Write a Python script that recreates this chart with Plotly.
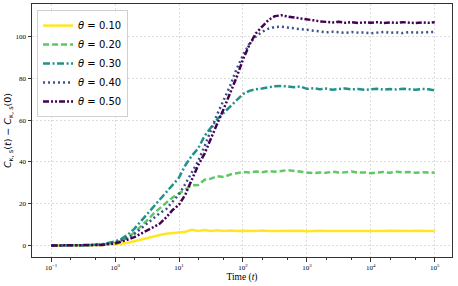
import plotly.graph_objects as go

# log10 of time
log_t = [-1.0, -0.8, -0.6, -0.4, -0.2,
         0.0, 0.1, 0.2, 0.3, 0.4, 0.5, 0.6, 0.7, 0.8, 0.9,
         1.0, 1.1, 1.2, 1.3, 1.4, 1.5, 1.6, 1.7, 1.8, 1.9,
         2.0, 2.1, 2.2, 2.3, 2.4, 2.5, 2.6, 2.7, 2.8, 2.9,
         3.0, 3.1, 3.2, 3.3, 3.4, 3.5, 3.6, 3.7, 3.8, 3.9,
         4.0, 4.1, 4.2, 4.3, 4.4, 4.5, 4.6, 4.7, 4.8, 4.9, 5.0]
time = [10 ** e for e in log_t]

theta_010 = [0, 0.0, 0.05, 0.1, 0.2,
             0.5, 0.8, 1.3, 2.0, 2.8, 3.6, 4.4, 5.0, 5.6, 6.0,
             6.1, 6.6, 7.5, 6.9, 7.4, 7.0, 7.3, 7.0, 7.2, 6.9,
             7.1, 6.9, 7.0, 7.2, 6.9, 7.0, 7.1, 6.9, 7.0, 7.1,
             6.8, 7.0, 7.1, 6.9, 7.0, 7.1, 6.9, 7.0, 7.0, 6.9,
             7.1, 7.0, 6.9, 7.1, 7.0, 6.9, 7.0, 7.1, 6.9, 7.0, 6.9]
theta_020 = [0, 0.0, 0.05, 0.15, 0.4,
             1.3, 2.3, 3.8, 6.2, 9.0, 12.0, 15.2, 18.0, 20.5, 23.0,
             25.0, 26.6, 28.8, 29.0, 31.5, 32.0, 33.2, 32.8, 34.0, 34.6,
             35.2, 35.0, 35.4, 35.1, 35.6, 35.3, 35.8, 36.1, 35.7, 35.3,
             35.0, 34.6, 35.0, 34.8, 35.3, 34.9, 35.1, 35.4, 34.9, 35.0,
             34.6, 34.9, 35.2, 34.8, 35.3, 35.0, 35.2, 34.8, 35.1, 35.0, 34.8]
theta_030 = [0, 0.0, 0.05, 0.2, 0.6,
             2.0, 3.2, 5.2, 8.0, 11.5, 15.0, 18.5, 22.0, 25.5, 29.0,
             32.5, 38.5, 43.0, 46.5, 52.5, 56.5, 60.5, 63.5, 66.5, 70.0,
             72.5, 74.0, 74.8, 75.2, 75.8, 76.2, 76.4, 76.0, 75.8, 76.1,
             75.0, 75.3, 74.8, 75.1, 74.6, 74.9, 75.2, 74.7, 74.9, 74.5,
             74.8, 75.0, 74.6, 74.9, 74.7, 75.0, 74.8, 74.6, 74.9, 74.8, 74.3]
theta_040 = [0, 0.0, 0.05, 0.15, 0.5,
             1.5, 2.5, 3.8, 5.5, 8.0, 10.5, 13.0, 15.5, 17.5, 21.0,
             24.5, 29.5, 35.0, 40.5, 47.5, 55.5, 63.0, 69.7, 76.5, 84.5,
             91.0, 96.5, 100.0, 102.3, 103.8, 104.6, 104.7, 104.3, 104.0, 103.6,
             103.2, 102.8, 102.5, 102.0, 102.3, 102.1, 101.8, 102.2, 101.9, 102.0,
             101.6, 101.9, 102.2, 101.8, 102.0, 101.7, 102.1, 101.9, 102.0, 101.8, 102.2]
theta_050 = [0, 0.0, 0.05, 0.1, 0.3,
             1.0, 1.8, 2.8, 4.0, 5.5, 7.0, 8.8, 10.5, 13.5, 17.0,
             19.5, 24.5, 31.5, 38.5, 44.0, 51.5, 58.5, 65.5, 72.9, 80.5,
             89.0, 96.0, 101.5, 105.0, 108.0, 109.8, 110.2, 109.6, 109.2, 108.7,
             108.5, 107.8, 107.3, 107.0, 106.8, 107.1, 106.6, 106.9, 106.5, 106.8,
             106.6, 106.9, 106.5, 106.8, 106.6, 106.9, 106.7, 106.5, 106.8, 106.6, 106.9]

labels = ["0.10", "0.20", "0.30", "0.40", "0.50"]
series = [theta_010, theta_020, theta_030, theta_040, theta_050]
colors = ["#fde725", "#5ec962", "#21918c", "#3b528b", "#440154"]
dashes = ["solid", "6px,3px", "7px,2.5px,2px,2.5px", "2px,3px", "6px,2px,2px,2px,2px,2px"]

tick_exp = [-1, 0, 1, 2, 3, 4, 5]
tick_text = ["10<sup>−1</sup>", "10<sup>0</sup>", "10<sup>1</sup>", "10<sup>2</sup>",
             "10<sup>3</sup>", "10<sup>4</sup>", "10<sup>5</sup>"]

fig = go.Figure()
for lab, ys, c, d in zip(labels, series, colors, dashes):
    fig.add_trace(go.Scatter(
        x=time, y=ys, mode="lines", name=f"<i>θ</i> = {lab}",
        line=dict(color=c, width=2.5, dash=d),
    ))

serif = "Liberation Serif"
grid = dict(showgrid=True, gridcolor="#dcdcdc", griddash="2px,2px", gridwidth=0.7)
fig.update_layout(
    width=458, height=286,
    margin=dict(l=32, r=6, t=4, b=29, autoexpand=False),
    paper_bgcolor="white", plot_bgcolor="white",
    showlegend=True,
    legend=dict(
        x=0.012, y=0.976, xanchor="left", yanchor="top",
        bgcolor="rgba(255,255,255,0.8)", bordercolor="#d0d0d0", borderwidth=1,
        font=dict(family="DejaVu Sans", size=10, color="black"),
        tracegroupgap=0, itemwidth=30,
    ),
    xaxis=dict(
        type="log", range=[-1.3, 5.27], automargin=False,
        tickvals=[10 ** e for e in tick_exp], ticktext=tick_text,
        tickfont=dict(family=serif, size=7, color="black"),
        ticks="outside", ticklen=3.5, tickcolor="#333",
        minor=dict(ticks="outside", ticklen=2, tickcolor="#333", showgrid=False),
        showline=True, mirror=True, linecolor="#333", linewidth=1,
        zeroline=False,
        title=dict(text="Time (<i>t</i>)", font=dict(family=serif, size=9.5, color="black"), standoff=2),
        **grid,
    ),
    yaxis=dict(
        range=[-5.5, 115.6], automargin=False,
        tickvals=[0, 20, 40, 60, 80, 100],
        tickfont=dict(family=serif, size=7, color="black"),
        ticks="outside", ticklen=3.5, tickcolor="#333",
        showline=True, mirror=True, linecolor="#333", linewidth=1,
        zeroline=False,
        title=dict(text="<i>C</i><sub>κ, s</sub>(<i>t</i>) − <i>C</i><sub>κ, s</sub>(0)",
                   font=dict(family="DejaVu Sans", size=9.5, color="black"), standoff=2),
        **grid,
    ),
)

fig.write_html("out.html", config={"displayModeBar": False},
               post_script="document.body.style.margin='0';")
